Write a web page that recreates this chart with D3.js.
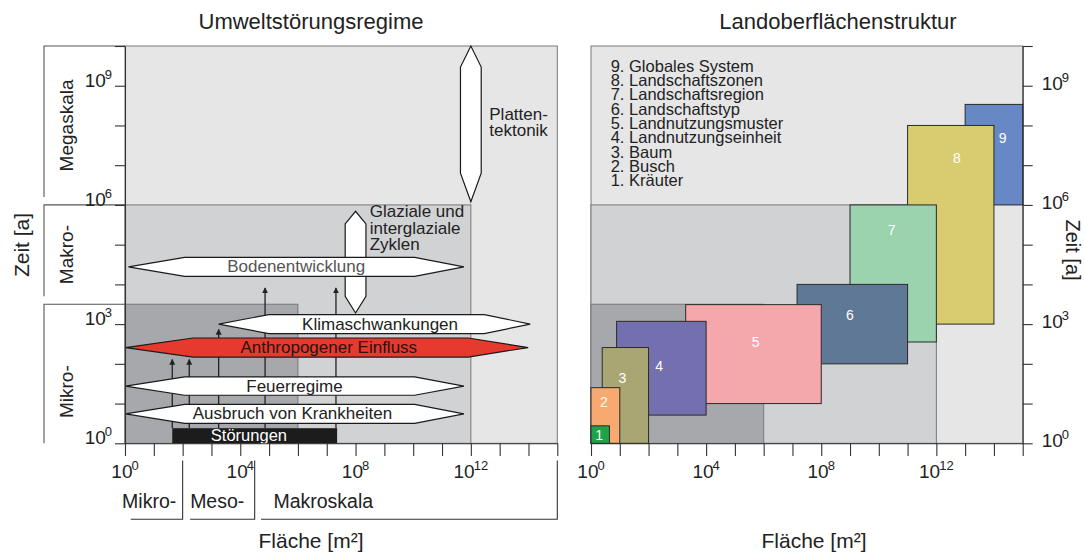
<!DOCTYPE html>
<html>
<head>
<meta charset="utf-8">
<script src="https://cdn.jsdelivr.net/npm/d3@7"></script>
<style>
body { margin: 0; background: #fff; }
svg { display: block; font-family: "Liberation Sans", Arial, Helvetica, sans-serif; }
</style>
</head>
<body>
<svg id="chart" width="1085" height="554"></svg>
<script>
// all values are log10 units: area in m², time in years
var decades = d3.range(0, 16);
var timeDecades = d3.range(0, 11);
var areaLabelDecades = [0, 4, 8, 12];
var timeLabelDecades = [0, 3, 6, 9];

// nested grey regimes (from origin to these corners)
var shadeArea = [15, 12, 6];
var shadeTime = [10, 6, 3.5];

// time scale bands, left of the first panel
var timeBands = ["Megaskala", "Makro-", "Mikro-"];
var timeBandFrom = [6, 3.5, 0];
var timeBandTo = [10, 6, 3.5];
var timeBandLabelAt = [8, 4.75, 1.3];

// space scale bands, below the first panel
var spaceBands = ["Mikro-", "Meso-", "Makroskala"];
var spaceBandFrom = [0.2, 2.26, 4.72];
var spaceBandTo = [2, 4.5, 15];
var spaceBandText = [-0.1, 2.26, 5.15];

// horizontal disturbance regimes
var hLabels = ["Bodenentwicklung", "Klimaschwankungen", "Anthropogener Einfluss", "Feuerregime", "Ausbruch von Krankheiten"];
var hTime = [4.44, 3.0, 2.41, 1.44, 0.74];
var hHalf = [0.24, 0.24, 0.24, 0.23, 0.24];
var hTipL = [0.12, 3.25, 0.02, 0.02, 0.02];
var hShoulderL = [2.07, 4.99, 2.36, 2.07, 2.07];
var hShoulderR = [10.05, 12.47, 11.91, 10.05, 10.05];
var hTipR = [11.76, 14.06, 13.99, 11.76, 11.76];
var hLabelAt = [5.94, 8.85, 7.07, 5.88, 5.81];

// vertical regimes
var vLabels = [["Platten-", "tektonik"], ["Glaziale und", "interglaziale", "Zyklen"]];
var vArea = [12.0, 8.0];
var vHalf = [0.36, 0.36];
var vTipB = [6.08, 3.28];
var vShoulderB = [6.8, 3.70];
var vShoulderT = [9.47, 5.52];
var vTipT = [10.0, 5.84];
var vTextArea = [12.64, 8.49];
var vTextTime = [[8.14, 7.74], [5.69, 5.28, 4.87]];

// disturbances (Störungen) and their arrows
var stoerFrom = 1.64, stoerTo = 7.36, stoerTop = 0.38, stoerLabelAt = 4.3;
var arrowArea = [1.64, 2.23, 3.25, 4.86, 7.32];
var arrowTop = [2.11, 2.11, 2.87, 3.91, 3.91];

// landscape units, right panel
var unitNames = ["Kräuter", "Busch", "Baum", "Landnutzungseinheit", "Landnutzungsmuster",
  "Landschaftstyp", "Landschaftsregion", "Landschaftszonen", "Globales System"];
var unitArea0 = [0, 0, 0.39, 0.89, 3.29, 7.16, 9, 11, 13];
var unitArea1 = [0.64, 1, 2, 4, 8, 11, 12, 14, 15];
var unitTime0 = [0, 0, 0, 0.71, 1.0, 2.0, 2.55, 3, 6];
var unitTime1 = [0.44, 1.4, 2.41, 3.07, 3.49, 4.0, 6, 8, 8.53];
var unitLabelArea = [0.28, 0.45, 1.09, 2.37, 5.72, 9.0, 10.45, 12.71, 14.3];
var unitLabelTime = [0.21, 1.03, 1.64, 1.95, 2.55, 3.24, 5.38, 7.17, 7.68];

var unitColors = ["#1fa34a", "#f7a96f", "#a9a673", "#7470b0", "#f4a8ab", "#5f7896", "#9ad3ad", "#d9cb6f", "#6688c4"];
var shadeColors = ["#e6e6e7", "#d1d2d4", "#a7a8ab"];
var hColors = ["#fff", "#fff", "#e63a2e", "#fff", "#fff"];
var hTextColors = ["#555", "#222", "#2a1210", "#222", "#222"];

var svg = d3.select("#chart");

var yScale = d3.scaleLinear().domain([0, 10]).range([443.3, 46]);
var xLeft = d3.scaleLinear().domain([0, 15]).range([125, 557.3]);
var xRight = d3.scaleLinear().domain([0, 15]).range([591, 1022.7]);

function powLabel(sel, exp, supSize) {
  sel.append("tspan").text("10");
  sel.append("tspan").attr("dy", -8).attr("dx", -1).attr("font-size", supSize).text(exp);
}

// titles
svg.append("text").attr("x", 311).attr("y", 29).attr("text-anchor", "middle")
  .attr("font-size", 22).attr("fill", "#222").text("Umweltstörungsregime");
svg.append("text").attr("x", 838).attr("y", 29).attr("text-anchor", "middle")
  .attr("font-size", 22).attr("fill", "#222").text("Landoberflächenstruktur");

function drawShades(g, x) {
  shadeArea.forEach(function(a, i) {
    g.append("rect")
      .attr("x", x(0)).attr("y", yScale(shadeTime[i]))
      .attr("width", x(a) - x(0)).attr("height", yScale(0) - yScale(shadeTime[i]))
      .attr("fill", shadeColors[i]).attr("stroke", "#77787b").attr("stroke-width", 1);
  });
}

function drawAxes(g, x, side) {
  g.append("g")
    .attr("transform", "translate(0," + yScale(0) + ")")
    .call(d3.axisBottom(x).tickValues(decades).tickSize(12.7).tickSizeOuter(0).tickFormat(""))
    .call(function(a) { a.selectAll("line,path").attr("stroke", "#333").attr("stroke-width", 1.1); });

  areaLabelDecades.forEach(function(d) {
    var t = g.append("text").attr("x", x(d)).attr("y", 478).attr("text-anchor", "middle")
      .attr("font-size", 19).attr("fill", "#222");
    powLabel(t, d, 13);
  });

  var ax = side === "left" ? d3.axisLeft(yScale) : d3.axisRight(yScale);
  g.append("g")
    .attr("transform", "translate(" + (side === "left" ? x(0) : x(15)) + ",0)")
    .call(ax.tickValues(timeDecades).tickSize(10).tickSizeOuter(0).tickFormat(""))
    .call(function(a) { a.selectAll("line,path").attr("stroke", "#333").attr("stroke-width", 1.1); });

  timeLabelDecades.forEach(function(d) {
    var t = g.append("text")
      .attr("x", side === "left" ? 112 : 1041.7)
      .attr("y", yScale(d) + (side === "left" ? 1 : 4))
      .attr("text-anchor", side === "left" ? "end" : "start")
      .attr("font-size", 19).attr("fill", "#222");
    powLabel(t, d, 13);
  });
}

// ---------- left panel ----------
var left = svg.append("g");
drawShades(left, xLeft);

// time bands on the left
timeBands.forEach(function(b, i) {
  var yTop = yScale(timeBandTo[i]);
  var yBot = yScale(timeBandFrom[i]) - (i < 2 ? 8 : 0);
  left.append("path")
    .attr("d", "M" + xLeft(0) + "," + yTop + "H44V" + yBot)
    .attr("fill", "none").attr("stroke", "#555").attr("stroke-width", 1.1);
  left.append("text")
    .attr("transform", "translate(66," + yScale(timeBandLabelAt[i]) + ") rotate(-90)")
    .attr("text-anchor", "middle").attr("dominant-baseline", "central")
    .attr("font-size", 19).attr("fill", "#222").text(b);
});

svg.append("text")
  .attr("transform", "translate(21,245) rotate(-90)")
  .attr("text-anchor", "middle").attr("dominant-baseline", "central")
  .attr("font-size", 21).attr("fill", "#222").text("Zeit [a]");

// arrows from disturbances
var defs = svg.append("defs");
defs.append("marker").attr("id", "head").attr("viewBox", "0 0 10 10")
  .attr("refX", 9).attr("refY", 5).attr("markerWidth", 6).attr("markerHeight", 7)
  .attr("markerUnits", "userSpaceOnUse").attr("orient", "auto")
  .append("path").attr("d", "M0,0L10,5L0,10z").attr("fill", "#222");

arrowArea.forEach(function(a, i) {
  left.append("line")
    .attr("x1", xLeft(a)).attr("x2", xLeft(a))
    .attr("y1", yScale(stoerTop)).attr("y2", yScale(arrowTop[i]))
    .attr("stroke", "#222").attr("stroke-width", 1.3)
    .attr("marker-end", "url(#head)");
});

left.append("rect")
  .attr("x", xLeft(stoerFrom)).attr("y", yScale(stoerTop))
  .attr("width", xLeft(stoerTo) - xLeft(stoerFrom)).attr("height", yScale(0) - yScale(stoerTop))
  .attr("fill", "#1c1c1c");
left.append("text")
  .attr("x", xLeft(stoerLabelAt)).attr("y", 441)
  .attr("text-anchor", "middle").attr("font-size", 16.5).attr("fill", "#fff").text("Störungen");

// vertical regimes (behind the horizontal ones)
vLabels.forEach(function(lines, i) {
  var xc = xLeft(vArea[i]), xl = xLeft(vArea[i] - vHalf[i]), xr = xLeft(vArea[i] + vHalf[i]);
  var pts = [[xc, yScale(vTipB[i])], [xr, yScale(vShoulderB[i])], [xr, yScale(vShoulderT[i])],
    [xc, yScale(vTipT[i])], [xl, yScale(vShoulderT[i])], [xl, yScale(vShoulderB[i])]];
  left.append("path")
    .attr("d", d3.line()(pts) + "Z")
    .attr("fill", "#fff").attr("stroke", "#1a1a1a").attr("stroke-width", 1.2);
  lines.forEach(function(l, j) {
    left.append("text")
      .attr("x", xLeft(vTextArea[i])).attr("y", yScale(vTextTime[i][j]))
      .attr("font-size", 17).attr("fill", "#222").text(l);
  });
});

// horizontal regimes
hLabels.forEach(function(lab, i) {
  var yc = yScale(hTime[i]), yt = yScale(hTime[i] + hHalf[i]), yb = yScale(hTime[i] - hHalf[i]);
  var pts = [[xLeft(hTipL[i]), yc], [xLeft(hShoulderL[i]), yt], [xLeft(hShoulderR[i]), yt],
    [xLeft(hTipR[i]), yc], [xLeft(hShoulderR[i]), yb], [xLeft(hShoulderL[i]), yb]];
  left.append("path")
    .attr("d", d3.line()(pts) + "Z")
    .attr("fill", hColors[i]).attr("stroke", "#1a1a1a").attr("stroke-width", 1.2);
  left.append("text")
    .attr("x", xLeft(hLabelAt[i])).attr("y", yc)
    .attr("text-anchor", "middle").attr("dominant-baseline", "central")
    .attr("font-size", 17).attr("fill", hTextColors[i]).text(lab);
});

drawAxes(left, xLeft, "left");

// space bands below
spaceBands.forEach(function(b, i) {
  left.append("path")
    .attr("d", "M" + xLeft(spaceBandFrom[i]) + ",519.3H" + xLeft(spaceBandTo[i]) + "V460.5")
    .attr("fill", "none").attr("stroke", "#333").attr("stroke-width", 1.1);
  left.append("text")
    .attr("x", xLeft(spaceBandText[i])).attr("y", 508.3)
    .attr("font-size", 19.5).attr("fill", "#222").text(b);
});

svg.append("text").attr("x", 311).attr("y", 548).attr("text-anchor", "middle")
  .attr("font-size", 21).attr("fill", "#222").text("Fläche [m²]");

// ---------- right panel ----------
var right = svg.append("g");
drawShades(right, xRight);

// lower numbers sit on top
d3.range(unitNames.length - 1, -1, -1).forEach(function(i) {
  right.append("rect")
    .attr("x", xRight(unitArea0[i])).attr("y", yScale(unitTime1[i]))
    .attr("width", xRight(unitArea1[i]) - xRight(unitArea0[i]))
    .attr("height", yScale(unitTime0[i]) - yScale(unitTime1[i]))
    .attr("fill", unitColors[i]).attr("stroke", "#2a2a2a").attr("stroke-width", 1);
});
unitNames.forEach(function(n, i) {
  right.append("text")
    .attr("x", xRight(unitLabelArea[i])).attr("y", yScale(unitLabelTime[i]))
    .attr("text-anchor", "middle").attr("dominant-baseline", "central")
    .attr("font-size", 14).attr("fill", "#fff").text(i + 1);
});

// legend of units
d3.range(unitNames.length - 1, -1, -1).forEach(function(i, k) {
  right.append("text")
    .attr("x", 610.7).attr("y", 71.7 + k * 14.3)
    .attr("font-size", 16.5).attr("fill", "#222")
    .text((i + 1) + ". " + unitNames[i]);
});

drawAxes(right, xRight, "right");

svg.append("text")
  .attr("transform", "translate(1073,250) rotate(90)")
  .attr("text-anchor", "middle").attr("dominant-baseline", "central")
  .attr("font-size", 20).attr("fill", "#222").text("Zeit [a]");

svg.append("text").attr("x", 814).attr("y", 548).attr("text-anchor", "middle")
  .attr("font-size", 21).attr("fill", "#222").text("Fläche [m²]");
</script>
</body>
</html>
